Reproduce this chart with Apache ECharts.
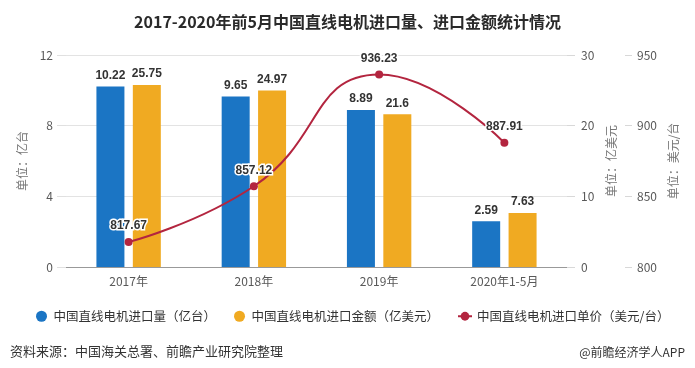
<!DOCTYPE html>
<html><head><meta charset="utf-8">
<script src="https://cdn.jsdelivr.net/npm/echarts@6/dist/echarts.min.js"></script>
<style>html,body{margin:0;padding:0;background:#fff}#c{width:695px;height:368px}</style>
</head><body><div id="c"></div>
<script>
var categories = ['2017年', '2018年', '2019年', '2020年1-5月'];
var volume = [10.22, 9.65, 8.89, 2.59];
var amount = [25.75, 24.97, 21.6, 7.63];
var price = [817.67, 857.12, 936.23, 887.91];
var seriesNames = ['中国直线电机进口量（亿台）', '中国直线电机进口金额（亿美元）', '中国直线电机进口单价（美元/台）'];

var font = '"Microsoft YaHei","Noto Sans CJK SC",sans-serif';
var chart = echarts.init(document.getElementById('c'));
var axisLabel = {color: '#595959', fontSize: 12, fontFamily: font};
var nameStyle = {color: '#777', fontSize: 12, fontFamily: font};
chart.setOption({
  textStyle: {fontFamily: font},
  title: [
    {text: '2017-2020年前5月中国直线电机进口量、进口金额统计情况', left: 'center', top: 9,
     textStyle: {fontSize: 16, fontWeight: 'bold', color: '#2a2a2a', fontFamily: font}},
    {text: '资料来源：中国海关总署、前瞻产业研究院整理', left: 5, top: 340,
     textStyle: {fontSize: 13, fontWeight: 'normal', color: '#333', fontFamily: font}},
    {text: '@前瞻经济学人APP', right: 5, top: 341,
     textStyle: {fontSize: 12, fontWeight: 'normal', color: '#333', fontFamily: font}}
  ],
  legend: {
    top: 305, left: 31, width: 660, itemGap: 18, itemWidth: 14, itemHeight: 11,
    textStyle: {fontSize: 12.5, color: '#333', fontFamily: font},
    data: [
      {name: seriesNames[0], icon: 'circle'},
      {name: seriesNames[1], icon: 'circle'},
      {name: seriesNames[2]}
    ]
  },
  grid: {left: 66, right: 128, top: 55, bottom: 101},
  xAxis: {
    type: 'category', data: categories,
    axisLine: {lineStyle: {color: '#999'}},
    axisTick: {alignWithLabel: true, lineStyle: {color: '#999'}},
    axisLabel: Object.assign({margin: 8}, axisLabel)
  },
  yAxis: [
    {type: 'value', min: 0, max: 12, interval: 4, position: 'left',
     name: '单位：亿台', nameLocation: 'middle', nameGap: 38, nameTextStyle: nameStyle,
     axisLine: {show: false}, axisTick: {show: true, length: 9, lineStyle: {color: '#e0e0e0'}},
     axisLabel: Object.assign({margin: 13}, axisLabel),
     splitLine: {lineStyle: {color: '#e3e3e3'}}},
    {type: 'value', min: 0, max: 30, interval: 10, position: 'right',
     name: '单位：亿美元', nameLocation: 'middle', nameGap: 38, nameTextStyle: nameStyle,
     axisLine: {show: false}, axisTick: {show: true, length: 8, lineStyle: {color: '#d8d8d8'}},
     axisLabel: Object.assign({margin: 14}, axisLabel),
     splitLine: {show: false}},
    {type: 'value', min: 800, max: 950, interval: 50, position: 'right', offset: 58,
     name: '单位：美元/台', nameLocation: 'middle', nameGap: 41, nameTextStyle: nameStyle,
     axisLine: {show: false}, axisTick: {show: true, length: 7, lineStyle: {color: '#d8d8d8'}},
     axisLabel: Object.assign({margin: 12}, axisLabel),
     splitLine: {show: false}}
  ],
  series: [
    {name: seriesNames[0], type: 'bar', yAxisIndex: 0, data: volume,
     barWidth: 28, barGap: '30%', itemStyle: {color: '#1b75c4'},
     label: {show: true, position: 'top', color: '#333', fontWeight: 'bold', fontSize: 12, fontFamily: 'Arial, sans-serif'}},
    {name: seriesNames[1], type: 'bar', yAxisIndex: 1, data: amount,
     barWidth: 28, barGap: '30%', itemStyle: {color: '#f0aa22'},
     label: {show: true, position: 'top', color: '#333', fontWeight: 'bold', fontSize: 12, fontFamily: 'Arial, sans-serif'}},
    {name: seriesNames[2], type: 'line', yAxisIndex: 2, data: price, smooth: true,
     symbol: 'circle', symbolSize: 8,
     lineStyle: {color: '#b3253f', width: 2}, itemStyle: {color: '#b3253f'},
     label: {show: true, position: 'top', distance: 6, color: '#333', fontWeight: 'bold', fontSize: 12,
             fontFamily: 'Arial, sans-serif', textBorderColor: '#fff', textBorderWidth: 3},
     z: 5}
  ]
});
</script></body></html>
